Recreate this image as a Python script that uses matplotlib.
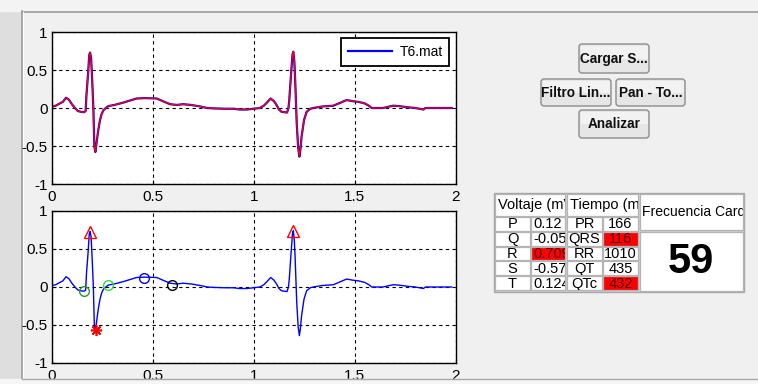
import numpy as np
import matplotlib
matplotlib.use('Agg')
from matplotlib import pyplot as plt
from matplotlib.patches import Rectangle, FancyBboxPatch

plt.rcParams['font.family'] = ['Liberation Sans', 'DejaVu Sans']
plt.rcParams['axes.unicode_minus'] = False

# ECG trace (seconds, mV)
t_ecg = [0.000, 0.020, 0.040, 0.055, 0.071, 0.085, 0.100, 0.115, 0.130, 0.145,
         0.160, 0.168, 0.172, 0.180, 0.186, 0.190, 0.195, 0.200, 0.206, 0.211,
         0.216, 0.222, 0.230, 0.239, 0.247, 0.256, 0.268, 0.280, 0.310, 0.353,
         0.390, 0.420, 0.460, 0.520, 0.550, 0.586, 0.620, 0.650, 0.690, 0.735,
         0.770, 0.800, 0.860, 0.900, 0.930, 0.965, 1.000, 1.030, 1.050, 1.065,
         1.084, 1.100, 1.113, 1.125, 1.138, 1.165, 1.172, 1.176, 1.185, 1.192,
         1.196, 1.201, 1.205, 1.213, 1.220, 1.226, 1.231, 1.237, 1.249, 1.262,
         1.280, 1.295, 1.340, 1.394, 1.430, 1.460, 1.490, 1.520, 1.550, 1.570,
         1.584, 1.640, 1.690, 1.720, 1.760, 1.800, 1.840, 1.850, 1.890, 1.980]
v_ecg = [0.02, 0.03, 0.06, 0.08, 0.135, 0.11, 0.05, 0.00, -0.04, -0.05,
         -0.055, -0.04, 0.17, 0.45, 0.70, 0.73, 0.66, 0.39, 0.02, -0.50,
         -0.58, -0.46, -0.30, -0.16, -0.08, -0.03, 0.00, 0.025, 0.04, 0.07,
         0.10, 0.125, 0.13, 0.125, 0.09, 0.05, 0.04, 0.05, 0.04, 0.02,
         0.00, -0.005, -0.01, -0.01, -0.02, -0.02, -0.01, 0.00, 0.03, 0.07,
         0.125, 0.09, 0.04, -0.02, -0.05, -0.06, 0.00, 0.10, 0.45, 0.70,
         0.74, 0.62, 0.39, -0.20, -0.52, -0.64, -0.55, -0.38, -0.16, -0.05,
         -0.01, 0.00, 0.02, 0.03, 0.07, 0.105, 0.09, 0.08, 0.06, 0.03,
         0.00, 0.00, 0.03, 0.025, 0.01, 0.00, -0.02, 0.00, 0.00, 0.00]

# detected points
r_t = [0.19, 1.196]
r_v = [0.73, 0.74]
s_t = [0.218]
s_v = [-0.57]
qon_t = [0.16]
qon_v = [-0.05]
qoff_t = [0.28]
qoff_v = [0.02]
tpk_t = [0.457]
tpk_v = [0.125]
tend_t = [0.594]
tend_v = [0.03]

xticks = [0, 0.5, 1, 1.5, 2]
xtick_labels = ['0', '0.5', '1', '1.5', '2']
yticks = [-1, -0.5, 0, 0.5, 1]
ytick_labels = ['-1', '-0.5', '0', '0.5', '1']

volt_labels = ['P', 'Q', 'R', 'S', 'T']
volt_vals = ['0.12', '-0.05', '0.709', '-0.57', '0.124']
volt_flag = [False, False, True, False, False]
time_labels = ['PR', 'QRS', 'RR', 'QT', 'QTc']
time_vals = ['166', '116', '1010', '435', '432']
time_flag = [False, True, False, False, True]
heart_rate = '59'

buttons = ['Cargar S...', 'Filtro Lin...', 'Pan - To...', 'Analizar']

W, H = 758, 384
fig = plt.figure(figsize=(W / 100, H / 100), dpi=100, facecolor='#f0f0f0')

# window background
bg = fig.add_axes([0, 0, 1, 1], zorder=0)
bg.set_xlim(0, W); bg.set_ylim(H, 0); bg.axis('off')
bg.add_patch(Rectangle((0, 0), 21, H, color='#dedede'))
bg.add_patch(Rectangle((0, 0), W, 11, color='#f3f3f3'))
bg.plot([21.5, 21.5], [11, 379], color='#9a9a9a', lw=1.2)
bg.plot([21.5, W], [11.5, 11.5], color='#9a9a9a', lw=1.2)
bg.plot([22.5, 22.5], [12, 378], color='white', lw=0.8)


def style_axes(ax):
    ax.set_xlim(0, 2)
    ax.set_ylim(-1, 1)
    ax.set_xticks(xticks)
    ax.set_xticklabels(xtick_labels)
    ax.set_yticks(yticks)
    ax.set_yticklabels(ytick_labels)
    ax.tick_params(direction='in', length=3, labelsize=11, colors='black')
    ax.tick_params(axis='x', pad=4.5)
    ax.tick_params(axis='y', pad=3)
    ax.grid(True, color='black', linestyle=(0, (3, 3)), lw=0.8)
    for sp in ax.spines.values():
        sp.set_linewidth(1.0)
    ax.set_facecolor('white')


ax1 = fig.add_axes([51.7 / W, 1 - 184 / H, 404 / W, 152 / H], zorder=1)
ax1.plot(t_ecg, v_ecg, color='blue', lw=1.6, label='T6.mat')
ax1.plot(t_ecg, v_ecg, color='red', lw=0.9)
style_axes(ax1)
leg = ax1.legend(loc='upper right', fontsize=10, handlelength=3.2, handletextpad=0.5,
                 borderpad=0.5, borderaxespad=0.45, fancybox=False, framealpha=1,
                 edgecolor='black')
leg.get_frame().set_linewidth(1.3)

ax2 = fig.add_axes([51.7 / W, 1 - 363 / H, 404 / W, 152 / H], zorder=1)
ax2.plot(t_ecg, v_ecg, color='blue', lw=1.0)
ax2.plot(r_t, r_v, '^', mfc='none', mec='red', ms=9, mew=1.0)
ax2.plot(s_t, s_v, marker=(8, 2, 0), ls='none', color='red', ms=8, mew=1.2)
ax2.plot(qon_t, qon_v, 'o', mfc='none', mec='#2a9a2a', ms=7, mew=1.0)
ax2.plot(qoff_t, qoff_v, 'o', mfc='none', mec='#33dd33', ms=7, mew=1.0)
ax2.plot(tpk_t, tpk_v, 'o', mfc='none', mec='blue', ms=7, mew=1.0)
ax2.plot(tend_t, tend_v, 'o', mfc='none', mec='black', ms=7, mew=1.0)
style_axes(ax2)

# foreground widgets (buttons, table) in pixel coordinates
fg = fig.add_axes([0, 0, 1, 1], zorder=2)
fg.set_xlim(0, W); fg.set_ylim(H, 0); fg.axis('off')
fg.patch.set_visible(False)

# cover below the window edge
fg.add_patch(Rectangle((0, 379), W, 5, color='#f6f6f6', zorder=5))
fg.plot([21.5, W], [378.5, 378.5], color='#a8a8a8', lw=1.0, zorder=6)

btn_boxes = [(579, 44, 649, 73), (541, 79, 611, 106), (616, 79, 685, 106), (579, 110, 649, 138)]
for label, (x0, y0, x1, y1) in zip(buttons, btn_boxes):
    fg.add_patch(FancyBboxPatch((x0, y0), x1 - x0, y1 - y0,
                                boxstyle='round,pad=0,rounding_size=3',
                                fc='#e6e6e6', ec='#8c8c8c', lw=1.0))
    fg.add_patch(Rectangle((x0 + 1.5, y0 + 1.5), x1 - x0 - 3, (y1 - y0) / 2 - 1.5,
                           color='#f2f2f2', lw=0))
    fg.text((x0 + x1) / 2, (y0 + y1) / 2 + 0.5, label, ha='center', va='center',
            fontsize=9.8, fontweight='bold', color='#101010')


def cell(x0, y0, x1, y1, text, face='white', color='black', ha='center',
         size=9, weight='normal', family=None):
    r = Rectangle((x0, y0), x1 - x0, y1 - y0, fc=face, ec='#b4b4b4', lw=0.9)
    fg.add_patch(r)
    if ha == 'left':
        tx = x0 + 2.5
    else:
        tx = (x0 + x1) / 2
    kw = {}
    if family:
        kw['family'] = family
    tt = fg.text(tx, (y0 + y1) / 2 + 0.5, text, ha=ha, va='center', fontsize=size,
                 color=color, fontweight=weight, clip_on=True, **kw)
    tt.set_clip_path(r)


fg.add_patch(Rectangle((494, 193), 250, 99, fc='#d0d0d0', ec='#a8a8a8', lw=1.0))
cell(495, 194, 565, 216, 'Voltaje (mV)', ha='left', size=10.5)
cell(567, 194, 638, 216, 'Tiempo (ms)', ha='left', size=10.5)
cell(639.5, 194, 743, 230, 'Frecuencia Cardiaca', ha='left', size=10)
cell(639.5, 231.5, 743, 291, heart_rate, size=30, weight='bold')

row_h = 14.8
for i in range(len(volt_labels)):
    y0 = 217 + i * row_h
    y1 = y0 + row_h - 1
    cell(495, y0, 530, y1, volt_labels[i], size=10.5)
    cell(531, y0, 565, y1, volt_vals[i], ha='left', size=10.5,
         face='#ff0000' if volt_flag[i] else 'white',
         color='#5a0000' if volt_flag[i] else 'black')
    cell(567, y0, 602, y1, time_labels[i], size=10.5)
    cell(603, y0, 638, y1, time_vals[i], size=10.5,
         face='#ff0000' if time_flag[i] else 'white',
         color='#5a0000' if time_flag[i] else 'black')

fig.savefig('out.png', dpi=100, facecolor=fig.get_facecolor())
